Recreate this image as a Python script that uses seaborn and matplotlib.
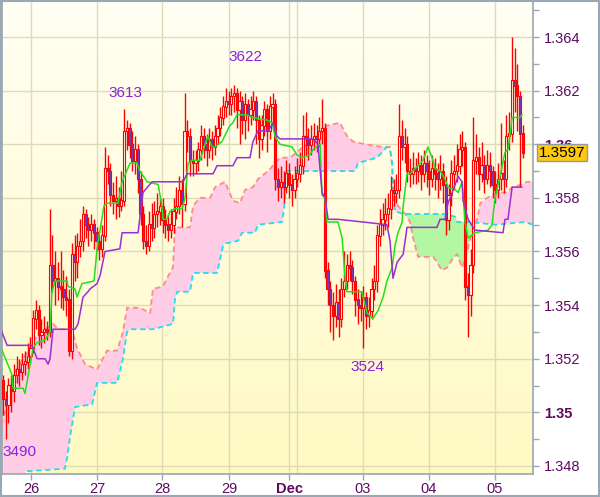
"""EUR/USD hourly Ichimoku chart (Nov 26 - Dec 05)"""
import matplotlib
matplotlib.use("Agg")
import matplotlib.pyplot as plt
import numpy as np
import seaborn as sns
from matplotlib.colors import LinearSegmentedColormap
from matplotlib.patches import Rectangle

sns.set_theme(style="white")
plt.rcParams["font.family"] = ["Liberation Sans", "DejaVu Sans"]

OUT_FILE = "out.png"

# ---- hourly candles (bar index 0..189), open = previous close ----
first_open = 1.3512
closes = [
    1.3505, 1.3503, 1.3510, 1.3508, 1.3514, 1.3516, 1.3515, 1.3518, 1.3519, 1.3521,
    1.3524, 1.3535, 1.3538, 1.3529, 1.3530, 1.3531, 1.3530, 1.3555, 1.3549, 1.3550,
    1.3547, 1.3546, 1.3543, 1.3542, 1.3523, 1.3559, 1.3556, 1.3562, 1.3564, 1.3574,
    1.3570, 1.3568, 1.3570, 1.3567, 1.3564, 1.3561, 1.3566, 1.3591, 1.3590, 1.3581,
    1.3579, 1.3580, 1.3577, 1.3579, 1.3605, 1.3606, 1.3600, 1.3594, 1.3598, 1.3587,
    1.3574, 1.3564, 1.3562, 1.3570, 1.3569, 1.3574, 1.3575, 1.3577, 1.3572, 1.3570,
    1.3568, 1.3570, 1.3575, 1.3577, 1.3583, 1.3578, 1.3605, 1.3603, 1.3594, 1.3593,
    1.3594, 1.3598, 1.3603, 1.3600, 1.3598, 1.3602, 1.3599, 1.3603, 1.3606, 1.3610,
    1.3614, 1.3616, 1.3615, 1.3618, 1.3619, 1.3613, 1.3616, 1.3609, 1.3615, 1.3611,
    1.3613, 1.3616, 1.3609, 1.3602, 1.3607, 1.3613, 1.3605, 1.3614, 1.3615, 1.3587,
    1.3584, 1.3586, 1.3584, 1.3589, 1.3585, 1.3583, 1.3587, 1.3589, 1.3592, 1.3603,
    1.3602, 1.3600, 1.3602, 1.3603, 1.3602, 1.3605, 1.3606, 1.3553, 1.3546, 1.3540,
    1.3536, 1.3541, 1.3535, 1.3546, 1.3549, 1.3555, 1.3554, 1.3549, 1.3542, 1.3540,
    1.3539, 1.3543, 1.3536, 1.3538, 1.3546, 1.3549, 1.3566, 1.3570, 1.3572, 1.3574,
    1.3576, 1.3583, 1.3582, 1.3583, 1.3603, 1.3599, 1.3600, 1.3590, 1.3589, 1.3591,
    1.3590, 1.3592, 1.3589, 1.3593, 1.3590, 1.3587, 1.3591, 1.3589, 1.3587, 1.3590,
    1.3585, 1.3572, 1.3581, 1.3589, 1.3590, 1.3592, 1.3598, 1.3599, 1.3547, 1.3544,
    1.3555, 1.3594, 1.3595, 1.3589, 1.3592, 1.3587, 1.3592, 1.3590, 1.3585, 1.3583,
    1.3587, 1.3589, 1.3587, 1.3603, 1.3604, 1.3624, 1.3622, 1.3618, 1.3604, 1.3597,
]
highs = [
    1.3514, 1.3508, 1.3513, 1.3514, 1.3518, 1.3521, 1.3520, 1.3522, 1.3523, 1.3526,
    1.3528, 1.3538, 1.3542, 1.3540, 1.3535, 1.3536, 1.3534, 1.3576, 1.3566, 1.3560,
    1.3556, 1.3560, 1.3553, 1.3551, 1.3546, 1.3563, 1.3566, 1.3567, 1.3572, 1.3577,
    1.3576, 1.3573, 1.3574, 1.3572, 1.3569, 1.3566, 1.3570, 1.3599, 1.3596, 1.3593,
    1.3586, 1.3588, 1.3584, 1.3590, 1.3613, 1.3609, 1.3608, 1.3605, 1.3603, 1.3600,
    1.3590, 1.3577, 1.3570, 1.3575, 1.3578, 1.3579, 1.3582, 1.3580, 1.3580, 1.3576,
    1.3574, 1.3576, 1.3580, 1.3584, 1.3588, 1.3587, 1.3619, 1.3609, 1.3606, 1.3598,
    1.3598, 1.3601, 1.3607, 1.3606, 1.3604, 1.3606, 1.3605, 1.3607, 1.3611, 1.3614,
    1.3618, 1.3621, 1.3620, 1.3621, 1.3622, 1.3621, 1.3620, 1.3618, 1.3619, 1.3617,
    1.3618, 1.3620, 1.3618, 1.3611, 1.3611, 1.3616, 1.3615, 1.3618, 1.3619, 1.3617,
    1.3591, 1.3592, 1.3590, 1.3594, 1.3593, 1.3589, 1.3592, 1.3595, 1.3597, 1.3611,
    1.3612, 1.3606, 1.3607, 1.3608, 1.3607, 1.3610, 1.3617, 1.3608, 1.3556, 1.3549,
    1.3545, 1.3548, 1.3546, 1.3550, 1.3560, 1.3559, 1.3560, 1.3557, 1.3551, 1.3546,
    1.3545, 1.3547, 1.3545, 1.3543, 1.3550, 1.3555, 1.3570, 1.3576, 1.3578, 1.3580,
    1.3582, 1.3588, 1.3587, 1.3589, 1.3615, 1.3609, 1.3606, 1.3603, 1.3595, 1.3597,
    1.3595, 1.3597, 1.3596, 1.3598, 1.3596, 1.3594, 1.3596, 1.3595, 1.3593, 1.3596,
    1.3593, 1.3588, 1.3585, 1.3594, 1.3596, 1.3600, 1.3604, 1.3605, 1.3601, 1.3552,
    1.3561, 1.3610, 1.3604, 1.3599, 1.3601, 1.3596, 1.3598, 1.3597, 1.3592, 1.3590,
    1.3593, 1.3608, 1.3594, 1.3611, 1.3612, 1.3640, 1.3636, 1.3630, 1.3620, 1.3607,
]
lows = [
    1.3499, 1.3490, 1.3496, 1.3500, 1.3504, 1.3511, 1.3510, 1.3512, 1.3514, 1.3516,
    1.3518, 1.3522, 1.3531, 1.3525, 1.3524, 1.3526, 1.3527, 1.3528, 1.3545, 1.3540,
    1.3542, 1.3539, 1.3538, 1.3536, 1.3521, 1.3520, 1.3549, 1.3550, 1.3558, 1.3560,
    1.3565, 1.3562, 1.3564, 1.3561, 1.3560, 1.3557, 1.3558, 1.3564, 1.3585, 1.3577,
    1.3574, 1.3572, 1.3573, 1.3575, 1.3577, 1.3598, 1.3595, 1.3590, 1.3589, 1.3582,
    1.3570, 1.3561, 1.3559, 1.3560, 1.3564, 1.3565, 1.3569, 1.3570, 1.3567, 1.3565,
    1.3564, 1.3565, 1.3567, 1.3572, 1.3574, 1.3569, 1.3575, 1.3597, 1.3588, 1.3588,
    1.3589, 1.3590, 1.3594, 1.3595, 1.3592, 1.3595, 1.3594, 1.3596, 1.3600, 1.3603,
    1.3607, 1.3610, 1.3611, 1.3611, 1.3612, 1.3606, 1.3600, 1.3604, 1.3602, 1.3605,
    1.3607, 1.3609, 1.3600, 1.3595, 1.3598, 1.3603, 1.3597, 1.3602, 1.3608, 1.3583,
    1.3579, 1.3580, 1.3578, 1.3582, 1.3580, 1.3577, 1.3580, 1.3584, 1.3586, 1.3589,
    1.3596, 1.3594, 1.3596, 1.3598, 1.3597, 1.3599, 1.3600, 1.3550, 1.3540, 1.3530,
    1.3527, 1.3532, 1.3528, 1.3532, 1.3543, 1.3546, 1.3549, 1.3544, 1.3536, 1.3533,
    1.3534, 1.3524, 1.3531, 1.3532, 1.3535, 1.3542, 1.3545, 1.3562, 1.3566, 1.3568,
    1.3569, 1.3572, 1.3577, 1.3578, 1.3580, 1.3594, 1.3593, 1.3586, 1.3584, 1.3585,
    1.3585, 1.3586, 1.3583, 1.3586, 1.3584, 1.3581, 1.3584, 1.3583, 1.3580, 1.3583,
    1.3578, 1.3566, 1.3568, 1.3577, 1.3583, 1.3586, 1.3589, 1.3592, 1.3542, 1.3528,
    1.3536, 1.3552, 1.3589, 1.3583, 1.3586, 1.3582, 1.3585, 1.3584, 1.3580, 1.3578,
    1.3580, 1.3583, 1.3582, 1.3584, 1.3598, 1.3601, 1.3612, 1.3605, 1.3584, 1.3595,
]

# ---- Ichimoku lines, read as breakpoints (bar index, price) ----
tenkan_x = [-1.1, 3.3, 3.6, 7.3, 8.0, 10.9, 12.4, 15.3, 17.1, 17.8, 18.9, 23.3, 23.6, 26.2,
            26.9, 28.7, 33.1, 34.2, 36.7, 37.8, 41.8, 43.3, 46.2, 48.7, 49.8, 52.4, 56.4,
            57.8, 58.2, 59.6, 60.7, 62.5, 65.1, 66.2, 67.3, 68.7, 71.6, 73.5, 74.5, 76.0,
            77.1, 79.6, 82.5, 83.6, 85.1, 88.7, 90.5, 96.0, 97.8, 98.9, 100.7, 105.1, 106.9,
            108.7, 111.6, 112.7, 115.3, 116.0, 117.1, 117.8, 121.8, 123.3, 124.4, 125.1,
            130.5, 132.4, 134.5, 136.4, 138.2, 139.6, 141.5, 142.5, 143.6, 145.1, 145.5,
            146.9, 148.0, 150.9, 152.7, 154.5, 156.0, 157.1, 158.9, 160.7, 161.8, 164.4,
            165.5, 166.9, 168.0, 169.1, 171.6, 176.4, 177.8, 178.9, 180.7, 182.5, 183.6,
            184.4, 185.1, 188.0, 188.7]
tenkan_y = [1.3525, 1.3514, 1.3509, 1.3509, 1.3507, 1.3524, 1.3526, 1.3527, 1.3530, 1.3545,
            1.3549, 1.3549, 1.3547, 1.3546, 1.3543, 1.3548, 1.3549, 1.3561, 1.3577, 1.3578,
            1.3578, 1.3586, 1.3593, 1.3593, 1.3590, 1.3586, 1.3585, 1.3577, 1.3572, 1.3572,
            1.3575, 1.3576, 1.3576, 1.3580, 1.3593, 1.3594, 1.3594, 1.3600, 1.3603, 1.3599,
            1.3599, 1.3601, 1.3607, 1.3608, 1.3611, 1.3611, 1.3610, 1.3609, 1.3608, 1.3603,
            1.3600, 1.3599, 1.3596, 1.3595, 1.3596, 1.3598, 1.3600, 1.3581, 1.3580, 1.3571,
            1.3571, 1.3565, 1.3550, 1.3545, 1.3545, 1.3537, 1.3535, 1.3538, 1.3543, 1.3549,
            1.3554, 1.3562, 1.3567, 1.3571, 1.3577, 1.3589, 1.3589, 1.3592, 1.3594, 1.3599,
            1.3595, 1.3591, 1.3590, 1.3587, 1.3584, 1.3583, 1.3582, 1.3586, 1.3571, 1.3565,
            1.3567, 1.3568, 1.3570, 1.3580, 1.3588, 1.3597, 1.3598, 1.3604, 1.3610, 1.3610,
            1.3611]

kijun_x = [-1.1, -0.4, 1.5, 10.5, 12.4, 15.3, 16.4, 17.1, 18.2, 26.2, 27.3, 29.1, 30.9, 31.6,
           34.2, 35.3, 37.1, 42.5, 43.3, 49.1, 50.9, 54.2, 65.5, 66.9, 76.4, 77.8, 83.6,
           85.1, 89.8, 90.9, 92.7, 96.4, 98.2, 99.6, 100.7, 112.7, 114.5, 116.0, 117.1,
           118.2, 121.8, 130.9, 139.6, 140.7, 141.8, 143.3, 145.5, 146.9, 157.8, 158.9,
           160.7, 161.8, 163.3, 165.5, 166.9, 167.3, 169.1, 171.6, 181.8, 182.5, 183.6,
           185.1, 188.7]
kijun_y = [1.3533, 1.3530, 1.3525, 1.3525, 1.3520, 1.3520, 1.3518, 1.3520, 1.3531, 1.3531,
           1.3533, 1.3543, 1.3545, 1.3546, 1.3548, 1.3551, 1.3560, 1.3561, 1.3567, 1.3567,
           1.3582, 1.3586, 1.3586, 1.3589, 1.3589, 1.3592, 1.3592, 1.3595, 1.3595, 1.3601,
           1.3605, 1.3605, 1.3608, 1.3603, 1.3602, 1.3602, 1.3600, 1.3582, 1.3580, 1.3572,
           1.3572, 1.3571, 1.3570, 1.3564, 1.3550, 1.3556, 1.3559, 1.3569, 1.3569, 1.3572,
           1.3572, 1.3578, 1.3582, 1.3588, 1.3586, 1.3579, 1.3572, 1.3568, 1.3567, 1.3572,
           1.3572, 1.3584, 1.3584]

span_a_x = [-1.1, 0.7, 3.6, 8.0, 10.9, 12.4, 15.3, 18.2, 20.0, 25.1, 26.9, 29.8, 34.2, 37.8,
            41.5, 43.6, 45.1, 49.8, 53.5, 54.5, 58.2, 59.6, 61.8, 62.5, 68.0, 69.1, 71.6,
            75.3, 77.1, 80.7, 83.6, 86.2, 88.0, 90.9, 92.7, 96.4, 100.7, 104.4, 106.9, 109.1,
            112.7, 115.3, 117.8, 122.5, 125.1, 127.3, 131.6, 137.8, 140.7, 141.5, 141.8,
            142.5, 143.6, 146.2, 148.0, 149.1, 150.9, 154.2, 156.4, 157.8, 159.6, 161.5,
            163.3, 165.1, 166.9, 168.0, 170.5, 172.4, 173.5, 176.0, 179.6, 183.3, 185.1,
            188.7, 190.5, 192.7]
span_a_y = [1.3492, 1.3501, 1.3514, 1.3521, 1.3526, 1.3529, 1.3531, 1.3533, 1.3531, 1.3531,
            1.3524, 1.3518, 1.3516, 1.3523, 1.3523, 1.3530, 1.3539, 1.3539, 1.3537, 1.3546,
            1.3547, 1.3550, 1.3554, 1.3569, 1.3569, 1.3577, 1.3580, 1.3580, 1.3584, 1.3586,
            1.3579, 1.3578, 1.3583, 1.3584, 1.3587, 1.3590, 1.3595, 1.3595, 1.3597, 1.3599,
            1.3601, 1.3604, 1.3607, 1.3608, 1.3603, 1.3601, 1.3600, 1.3599, 1.3599, 1.3592,
            1.3583, 1.3581, 1.3577, 1.3574, 1.3571, 1.3565, 1.3558, 1.3558, 1.3558, 1.3556,
            1.3553, 1.3554, 1.3557, 1.3559, 1.3554, 1.3557, 1.3567, 1.3572, 1.3578, 1.3580,
            1.3582, 1.3582, 1.3584, 1.3585, 1.3586, 1.3586]

span_b_x = [-1.1, 7.3, 8.0, 22.5, 23.3, 24.4, 26.2, 32.4, 34.2, 41.5, 43.6, 45.1, 46.2, 54.5,
            61.8, 62.5, 63.3, 68.0, 69.1, 77.8, 80.0, 80.7, 85.5, 86.9, 91.6, 92.7, 101.5,
            102.5, 103.3, 109.1, 128.0, 129.1, 136.0, 139.6, 140.7, 141.5, 141.8, 142.5,
            145.5, 158.9, 160.0, 164.4, 165.1, 169.8, 178.9, 189.8, 192.7]
span_b_y = [1.3474, 1.3474, 1.3478, 1.3479, 1.3483, 1.3491, 1.3502, 1.3503, 1.3511, 1.3511,
            1.3520, 1.3530, 1.3531, 1.3531, 1.3533, 1.3542, 1.3545, 1.3545, 1.3552, 1.3552,
            1.3562, 1.3563, 1.3564, 1.3567, 1.3567, 1.3570, 1.3571, 1.3579, 1.3590, 1.3590,
            1.3590, 1.3593, 1.3595, 1.3599, 1.3598, 1.3593, 1.3583, 1.3575, 1.3574, 1.3574,
            1.3574, 1.3573, 1.3571, 1.3571, 1.3570, 1.3571, 1.3570]

# ---- axis labels ----
day_ticks = [10.2, 34.2, 57.8, 82.2, 104.0, 130.9, 154.9, 178.9]
day_labels = ["26", "27", "28", "29", "Dec", "03", "04", "05"]
price_ticks = [1.348, 1.350, 1.352, 1.354, 1.356, 1.358, 1.360, 1.362, 1.364]
price_labels = ["1.348", "1.35", "1.352", "1.354", "1.356", "1.358", "1.36", "1.362", "1.364"]
last_price = "1.3597"

# extremes marked on the chart: (label, bar index, price, offset in points)
extremes = [("3613", 44, 1.3613, (1, 12)), ("3622", 84, 1.3622, (8, 20)),
            ("3524", 131, 1.3524, (3, -14)), ("3490", 1, 1.3490, (10, -9))]

RED = "#ff0000"
LABEL_COL = "#5e0a62"
MARK_COL = "#8a22d8"

x0, x1 = -0.36, 192.7
y0, y1 = 1.347701, 1.365306

fig = plt.figure(figsize=(6, 4.97), dpi=100)
fig.patch.set_facecolor("white")
ax = fig.add_axes([2 / 600, 23 / 497, 531 / 600, 472 / 497])

# background gradient
grad = np.linspace(0, 1, 256).reshape(-1, 1)
bg = LinearSegmentedColormap.from_list("bg", ["#fffff4", "#fff9c2"])
ax.imshow(grad, cmap=bg, extent=[x0, x1, y0, y1], origin="upper", aspect="auto", zorder=0)

# grid
for p in price_ticks:
    ax.axhline(p, color="#dcdcb8", lw=1, zorder=1)
for d in day_ticks + [106.9]:
    ax.axvline(d, color="#dcdcb8", lw=1, zorder=1)

# cloud
grid_x = np.linspace(span_a_x[0], span_a_x[-1], 2000)
a_i = np.interp(grid_x, span_a_x, span_a_y)
b_i = np.interp(grid_x, span_b_x, span_b_y)
ax.fill_between(grid_x, a_i, b_i, where=a_i >= b_i, interpolate=True,
                color="#ffcde6", lw=0, zorder=2)
ax.fill_between(grid_x, a_i, b_i, where=a_i < b_i, interpolate=True,
                color="#b4f7a2", lw=0, zorder=2)
ax.plot(span_a_x, span_a_y, color="#ff8a8a", lw=1.3, dashes=(3, 2), zorder=3)
ax.plot(span_b_x, span_b_y, color="#25dcef", lw=1.3, dashes=(3, 2), zorder=3)

# candles
idx = np.arange(len(closes))
opens = [first_open] + closes[:-1]
o = np.array(opens)
c = np.array(closes)
ax.vlines(idx, lows, highs, color=RED, lw=1, zorder=4)
down = c < o
face = np.where(down, "#6a3cc8", "#fffbe0")
ax.bar(idx, np.abs(c - o) + 0.00002, bottom=np.minimum(o, c) - 0.00001, width=0.8,
       color=face, edgecolor=RED, linewidth=0.8, zorder=5)

# tenkan / kijun
sns.lineplot(x=tenkan_x, y=tenkan_y, ax=ax, sort=False, estimator=None,
             color="#22e01a", lw=1.1, zorder=6)
sns.lineplot(x=kijun_x, y=kijun_y, ax=ax, sort=False, estimator=None,
             color="#9a2fd2", lw=1.1, zorder=6)

# extreme labels
for text, i, p, off in extremes:
    ax.annotate(text, xy=(i, p), xytext=off, textcoords="offset points",
                ha="center", va="center", fontsize=11, color=MARK_COL, zorder=7)

ax.set_xlim(x0, x1)
ax.set_ylim(y0, y1)

# axes styling
ax.yaxis.tick_right()
ax.set_yticks(price_ticks)
ax.set_yticklabels(price_labels)
ax.set_yticks([1.349, 1.351, 1.353, 1.355, 1.357, 1.359, 1.361, 1.363, 1.365], minor=True)
ax.set_xticks(day_ticks)
ax.set_xticklabels(day_labels)
ax.tick_params(axis="y", which="both", right=True, length=4, width=1, color="#9aa6b2",
               labelsize=10.5, labelcolor=LABEL_COL, pad=4)
ax.tick_params(axis="x", bottom=True, length=4, width=1, color="#9aa6b2",
               labelsize=10.5, labelcolor=LABEL_COL, pad=2)
for lab in ax.get_yticklabels():
    if lab.get_text() in ("1.35", "1.36"):
        lab.set_fontweight("bold")
for lab in ax.get_xticklabels():
    if lab.get_text() == "Dec":
        lab.set_fontweight("bold")
for side in ("left", "right", "bottom"):
    ax.spines[side].set_color("#9aa6b2")
    ax.spines[side].set_linewidth(1.2)
ax.spines["top"].set_visible(False)
ax.set_xlabel("")
ax.set_ylabel("")

# last price box (sits over the 1.36 label, as in the original)
ax.text(1.0545, 1.35968, last_price, transform=ax.get_yaxis_transform(), ha="center",
        va="center", fontsize=11, color="black", clip_on=False, zorder=8,
        bbox=dict(boxstyle="square,pad=0.1", fc="#ffc90a", ec="#8d9aa8", lw=1))

# outer frame
fig.patches.append(Rectangle((0.0015, 0.002), 0.997, 0.996, transform=fig.transFigure,
                             fill=False, ec="#9aa8b6", lw=1.5))

plt.savefig(OUT_FILE, dpi=100)
plt.close()
